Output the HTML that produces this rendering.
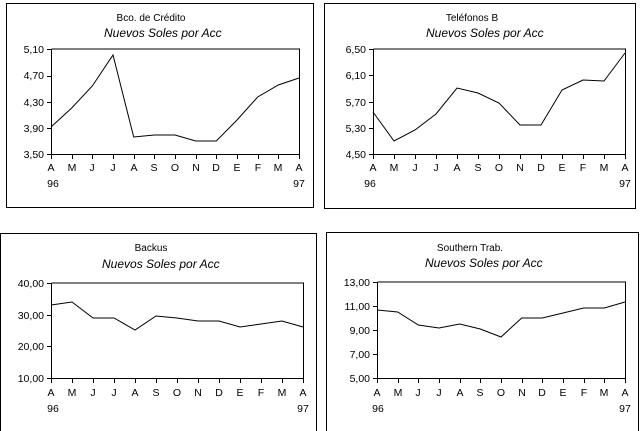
<!DOCTYPE html><html><head><style>body{margin:0;background:#fff}svg{display:block}text{font-family:"Liberation Sans",sans-serif;font-size:10.5px;fill:#000}.s{font-size:12px;font-style:italic}.t{font-size:10px}</style></head><body>
<svg width="640" height="431" viewBox="0 0 640 431" shape-rendering="crispEdges">
<g fill="none" stroke="#000" stroke-width="1">
<rect x="6.5" y="3.5" width="307" height="204"/>
<rect x="324.5" y="3.5" width="311" height="205"/>
<rect x="0.5" y="233.5" width="316" height="200"/>
<rect x="326.5" y="232.5" width="312" height="200"/>
<path d="M51.5 49V154.5H299.5V49H51.5"/>
<path d="M47 49.5h4M47 76.5h4M47 102.5h4M47 128.5h4M47 154.5h4"/>
<path d="M51.5 154v5M72.5 154v5M92.5 154v5M113.5 154v5M134.5 154v5M154.5 154v5M175.5 154v5M196.5 154v5M216.5 154v5M237.5 154v5M258.5 154v5M278.5 154v5M299.5 154v5"/>
<path d="M373.5 49V154.5H625.5V49H373.5"/>
<path d="M369 49.5h4M369 75.5h4M369 102.5h4M369 128.5h4M369 154.5h4"/>
<path d="M373.5 154v5M394.5 154v5M415.5 154v5M436.5 154v5M457.5 154v5M478.5 154v5M499.5 154v5M520.5 154v5M541.5 154v5M562.5 154v5M583.5 154v5M604.5 154v5M625.5 154v5"/>
<path d="M51.5 283V378.5H303.5V283H51.5"/>
<path d="M47 283.5h4M47 315.5h4M47 346.5h4M47 378.5h4"/>
<path d="M51.5 378v5M72.5 378v5M93.5 378v5M114.5 378v5M135.5 378v5M156.5 378v5M177.5 378v5M198.5 378v5M219.5 378v5M240.5 378v5M261.5 378v5M282.5 378v5M303.5 378v5"/>
<path d="M377.5 282V378.5H625.5V282H377.5"/>
<path d="M373 282.5h4M373 306.5h4M373 330.5h4M373 354.5h4M373 378.5h4"/>
<path d="M377.5 378v5M398.5 378v5M418.5 378v5M439.5 378v5M460.5 378v5M480.5 378v5M501.5 378v5M522.5 378v5M542.5 378v5M563.5 378v5M584.5 378v5M604.5 378v5M625.5 378v5"/>
</g>
<g fill="none" stroke="#000" shape-rendering="auto">
<polyline points="51,127 71.7,108 92.3,86 113,55 133.7,137 154.3,135 175,135 195.7,141 216.3,141 237,120 257.7,97 278.3,85 299,78"/>
<polyline points="373,112 394,141 415,130 436,114 457,88 478,93 499,103 520,125 541,125 562,90 583,80 604,81 625,53"/>
<polyline points="51,305 72,302 93,318 114,318 135,330 156,316 177,318 198,321 219,321 240,327 261,324 282,321 303,327"/>
<polyline points="377,310 397.7,312 418.3,325 439,328 459.7,324 480.3,329 501,337 521.7,318 542.3,318 563,313 583.7,308 604.3,308 625,302"/>
</g>
<text x="151" y="21" text-anchor="middle" class="t">Bco. de Crédito</text>
<text x="104" y="37" class="s">Nuevos Soles por Acc</text>
<text x="472" y="21" text-anchor="middle" class="t">Teléfonos B</text>
<text x="426" y="37" class="s">Nuevos Soles por Acc</text>
<text x="151" y="251" text-anchor="middle" class="t">Backus</text>
<text x="102" y="268" class="s">Nuevos Soles por Acc</text>
<text x="470" y="251" text-anchor="middle" class="t">Southern Trab.</text>
<text x="425" y="267" class="s">Nuevos Soles por Acc</text>
<g text-anchor="end">
<text x="44" y="53">5,10</text><text x="44" y="79">4,70</text><text x="44" y="106">4,30</text><text x="44" y="132">3,90</text><text x="44" y="158">3,50</text>
<text x="366" y="53">6,50</text><text x="366" y="79">6,10</text><text x="366" y="106">5,70</text><text x="366" y="132">5,30</text><text x="366" y="158">4,50</text>
<text x="44" y="287">40,00</text><text x="44" y="319">30,00</text><text x="44" y="350">20,00</text><text x="44" y="382">10,00</text>
<text x="370" y="286">13,00</text><text x="370" y="310">11,00</text><text x="370" y="334">9,00</text><text x="370" y="358">7,00</text><text x="370" y="382">5,00</text>
</g>
<g text-anchor="middle">
<text x="51" y="171">A</text><text x="72" y="171">M</text><text x="92" y="171">J</text><text x="113" y="171">J</text><text x="134" y="171">A</text><text x="154" y="171">S</text><text x="175" y="171">O</text><text x="196" y="171">N</text><text x="216" y="171">D</text><text x="237" y="171">E</text><text x="258" y="171">F</text><text x="278" y="171">M</text><text x="299" y="171">A</text>
<text x="53" y="187">96</text><text x="299" y="187">97</text>
<text x="373" y="171">A</text><text x="394" y="171">M</text><text x="415" y="171">J</text><text x="436" y="171">J</text><text x="457" y="171">A</text><text x="478" y="171">S</text><text x="499" y="171">O</text><text x="520" y="171">N</text><text x="541" y="171">D</text><text x="562" y="171">E</text><text x="583" y="171">F</text><text x="604" y="171">M</text><text x="625" y="171">A</text>
<text x="370" y="187">96</text><text x="625" y="187">97</text>
<text x="51" y="396">A</text><text x="72" y="396">M</text><text x="93" y="396">J</text><text x="114" y="396">J</text><text x="135" y="396">A</text><text x="156" y="396">S</text><text x="177" y="396">O</text><text x="198" y="396">N</text><text x="219" y="396">D</text><text x="240" y="396">E</text><text x="261" y="396">F</text><text x="282" y="396">M</text><text x="303" y="396">A</text>
<text x="53" y="412">96</text><text x="303" y="412">97</text>
<text x="377" y="396">A</text><text x="398" y="396">M</text><text x="418" y="396">J</text><text x="439" y="396">J</text><text x="460" y="396">A</text><text x="480" y="396">S</text><text x="501" y="396">O</text><text x="522" y="396">N</text><text x="542" y="396">D</text><text x="563" y="396">E</text><text x="584" y="396">F</text><text x="604" y="396">M</text><text x="625" y="396">A</text>
<text x="378" y="412">96</text><text x="625" y="412">97</text>
</g>
</svg></body></html>
